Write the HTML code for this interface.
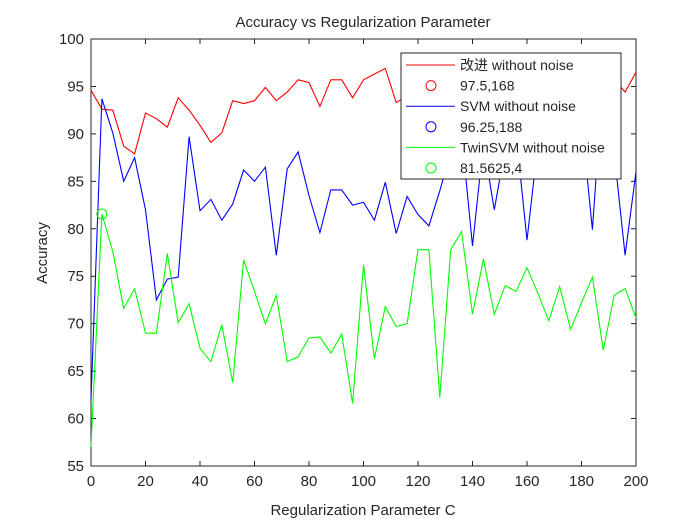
<!DOCTYPE html>
<html><head><meta charset="utf-8"><style>
body{margin:0;background:#fff;}
svg text{font-family:"Liberation Sans","Noto Sans CJK SC",sans-serif;fill:#262626;}
</style></head><body>
<svg id="chart" width="700" height="525" viewBox="0 0 700 525" xmlns="http://www.w3.org/2000/svg">
<rect width="700" height="525" fill="#fff"/>
<text x="363" y="27" font-size="15" text-anchor="middle">Accuracy vs Regularization Parameter</text>
<text x="363" y="515" font-size="15" text-anchor="middle">Regularization Parameter C</text>
<text x="47" y="253" font-size="15" text-anchor="middle" transform="rotate(-90 47 253)">Accuracy</text>
<g id="axes"></g>
<g id="series"></g>
<g id="legend"></g>
</svg>
<script>
const cValues = [0,4,8,12,16,20,24,28,32,36,40,44,48,52,56,60,64,68,72,76,80,84,88,92,96,100,104,108,112,116,120,124,128,132,136,140,144,148,152,156,160,164,168,172,176,180,184,188,192,196,200];
const redValues = [94.6,92.6,92.5,88.7,87.9,92.2,91.6,90.7,93.8,92.5,90.9,89.1,90.1,93.5,93.2,93.5,94.9,93.5,94.4,95.7,95.4,92.9,95.7,95.7,93.8,95.7,96.3,96.9,93.3,94.0,95.5,94.8,96.0,95.2,96.5,95.4,96.2,95.0,96.6,95.8,96.4,95.5,97.5,96.0,95.2,96.5,95.6,96.2,95.8,94.4,96.5];
const blueValues = [62,93.7,90.1,85.0,87.5,82.0,72.5,74.7,74.9,89.7,81.9,83.1,80.9,82.6,86.2,85.0,86.5,77.2,86.3,88.1,83.5,79.6,84.1,84.1,82.5,82.8,80.9,84.9,79.5,83.4,81.5,80.3,84.0,88.0,90.0,78.2,89.0,82.0,88.5,90.0,78.8,89.0,91.0,90.0,88.0,91.5,79.9,96.25,88.0,77.2,86.0];
const greenValues = [57.0,81.5625,77.6,71.6,73.7,69.0,69.0,77.4,70.1,72.1,67.4,66.0,69.9,63.8,76.7,73.4,70.0,73.0,66.0,66.5,68.5,68.6,66.9,68.9,61.6,76.2,66.3,71.8,69.7,70.0,77.8,77.8,62.2,77.8,79.7,71.0,76.8,71.0,74.0,73.4,75.9,73.2,70.3,73.9,69.4,72.2,74.9,67.2,73.0,73.7,70.6];
const xTicks = [0,20,40,60,80,100,120,140,160,180,200];
const yTicks = [55,60,65,70,75,80,85,90,95,100];
const bestPoints = [[168,97.5,'#ff0000'],[188,96.25,'#0000ff'],[4,81.5625,'#00ff00']];
const legendLabels = ['改进 without noise','97.5,168','SVM without noise','96.25,188','TwinSVM without noise','81.5625,4'];

const X0=91,X1=636,Y0=466,Y1=39;
const sx=v=>X0+(v-0)/200*(X1-X0);
const sy=v=>Y0-(v-55)/45*(Y0-Y1);
const NS='http://www.w3.org/2000/svg';
function mk(tag,attrs,parent){const e=document.createElementNS(NS,tag);for(const k in attrs)e.setAttribute(k,attrs[k]);parent.appendChild(e);return e;}
const axes=document.getElementById('axes');
let box=mk('rect',{x:X0,y:Y1,width:X1-X0,height:Y0-Y1,fill:'none',stroke:'#262626','stroke-width':1},axes);


xTicks.forEach(t=>{const x=sx(t);
 let l=mk('path',{d:`M${x},${Y0}v-5M${x},${Y1}v5`,stroke:'#262626'},axes);
 
 
 let tx=mk('text',{x:x,y:Y0+20,'font-size':15,'text-anchor':'middle'},axes);tx.textContent=t;
 
 
});
yTicks.forEach(t=>{const y=sy(t);
 let l=mk('path',{d:`M${X0},${y}h5M${X1},${y}h-5`,stroke:'#262626'},axes);
 
 
 let tx=mk('text',{x:X0-7,y:y+5,'font-size':15,'text-anchor':'end'},axes);tx.textContent=t;
 
 
});
const series=document.getElementById('series');
[[redValues,'#ff0000','improved-line'],[blueValues,'#0000ff','svm-line'],[greenValues,'#00ff00','twinsvm-line']].forEach(([vals,col,name])=>{
 const d=vals.map((v,i)=>(i?'L':'M')+sx(cValues[i]).toFixed(1)+','+sy(v).toFixed(1)).join('');
 let p=mk('path',{d:d,fill:'none',stroke:col,'stroke-width':1.1},series);
 
 
});
bestPoints.forEach(([c,v,col])=>{
 let m=mk('circle',{cx:sx(c),cy:sy(v),r:5,fill:'none',stroke:col,'stroke-width':1},series);
 
 
});
const lg=document.getElementById('legend');
let lb=mk('rect',{x:401,y:53,width:220,height:126,fill:'#fff',stroke:'#262626','stroke-width':1},lg);


const cols=['#ff0000','#ff0000','#0000ff','#0000ff','#00ff00','#00ff00'];
legendLabels.forEach((t,i)=>{const y=65+i*20.6;
 if(i%2===0){let l=mk('line',{x1:406,x2:455,y1:y,y2:y,stroke:cols[i]},lg);
  
  }
 else{let c=mk('circle',{cx:431,cy:y,r:5,fill:'none',stroke:cols[i]},lg);
  
  }
 let tx=mk('text',{x:460,y:y+5,'font-size':14},lg);tx.textContent=t;
 
 
});
</script>
</body></html>
